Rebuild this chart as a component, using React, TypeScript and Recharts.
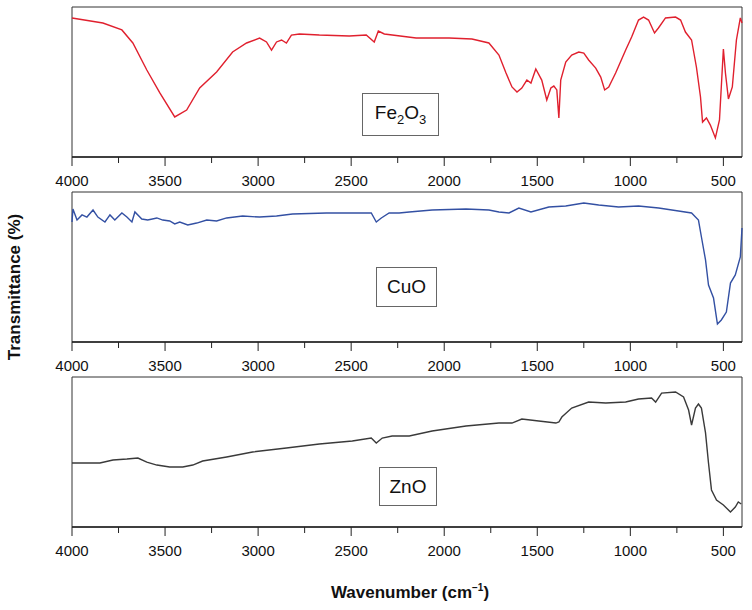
import { Line, LineChart, ReferenceArea, XAxis, YAxis } from 'recharts';

// wavenumber (cm-1) / transmittance (arbitrary %, 0 = panel bottom, 100 = panel top)
const fe2o3Wn = [
  4000, 3834, 3732, 3673, 3598, 3528, 3448, 3384, 3314, 3223, 3137, 3062, 2992, 2955, 2928, 2901,
  2874, 2848, 2821, 2778, 2671, 2510, 2419, 2376, 2354, 2322, 2151, 1974, 1851, 1760, 1706, 1668,
  1636, 1609, 1583, 1556, 1534, 1508, 1476, 1449, 1427, 1411, 1395, 1384, 1374, 1347, 1315, 1277,
  1250, 1224, 1186, 1159, 1138, 1116, 1079, 1025, 993, 956, 929, 902, 870, 849, 811, 757, 730, 704,
  671, 645, 623, 612, 591, 570, 543, 521, 500, 489, 473, 452, 430, 409, 400,
];
const fe2o3T = [
  92.7, 89.3, 84.7, 76, 58, 42.7, 26.7, 31.3, 46, 56.7, 70, 76, 79.3, 76.7, 71.3, 76.7, 78, 76,
  81.3, 82, 81.3, 80.7, 81.3, 76.7, 84, 82, 79.3, 79.3, 78.7, 76, 68, 56, 46.7, 43.3, 46, 51.3,
  49.3, 58.7, 51.3, 38, 46, 47.3, 44.7, 26, 51.3, 63.3, 68, 70, 69.3, 64.7, 59.3, 53.3, 44.7, 46.7,
  56, 71.3, 80, 91.3, 93.3, 91.3, 82.7, 86, 92.7, 93.3, 91.3, 83.3, 78, 60, 40, 23.3, 26, 21.3,
  12.7, 24.7, 72, 56, 38.7, 46.7, 78, 92.7, 89.3,
];

const cuoWn = [
  4000, 3995, 3973, 3946, 3920, 3887, 3861, 3823, 3796, 3770, 3732, 3705, 3678, 3662, 3625, 3593,
  3544, 3512, 3475, 3448, 3421, 3378, 3330, 3276, 3223, 3169, 3083, 2992, 2901, 2815, 2633, 2456,
  2392, 2365, 2338, 2296, 2242, 2188, 2065, 1883, 1760, 1706, 1652, 1599, 1534, 1438, 1347, 1250,
  1170, 1063, 956, 848, 741, 671, 634, 618, 596, 580, 553, 532, 511, 484, 462, 436, 409, 400,
];
const cuoT = [
  80, 88.7, 81.3, 84.7, 83.3, 88, 83.3, 80, 84.7, 81.3, 86, 83.3, 80, 86.7, 82, 81.3, 82.7, 81.3,
  80.7, 78.7, 80, 78, 79.3, 81.3, 80.7, 82.7, 84, 83.3, 84, 85.3, 86, 86, 86, 80, 82.7, 86, 86,
  86.7, 88, 88.7, 88, 86.7, 86, 89.3, 86.7, 90, 90.7, 92.7, 91.3, 90, 90.7, 89.3, 87.3, 86, 81.3,
  70, 54.7, 38, 29.3, 12, 14.7, 20, 39.3, 44.7, 56.7, 76,
];

const znoWn = [
  4000, 3920, 3850, 3780, 3705, 3646, 3598, 3544, 3475, 3405, 3351, 3298, 3169, 3030, 2848, 2671,
  2494, 2392, 2365, 2333, 2280, 2188, 2065, 1883, 1706, 1636, 1583, 1492, 1400, 1384, 1368, 1315,
  1224, 1132, 1025, 956, 886, 864, 832, 757, 714, 687, 671, 650, 634, 618, 596, 580, 564, 537, 500,
  462, 436, 420, 404,
];
const znoT = [
  42.7, 42.7, 42.7, 44.7, 45.3, 46, 43.3, 41.3, 40, 40, 41.3, 44, 46.7, 50, 52.7, 55.3, 57.3, 59.3,
  56, 59.3, 60.7, 60.7, 64, 67.3, 69.3, 69.3, 72, 70.7, 69.3, 70, 73.3, 79.3, 83.3, 82.7, 83.3,
  85.3, 86, 83.3, 89.3, 90, 86.7, 78, 68, 79.3, 82, 79.3, 62.7, 42.7, 24.7, 18, 14.7, 10, 13.3,
  16.7, 15.3,
];

const wnTicks = [4000, 3750, 3500, 3250, 3000, 2750, 2500, 2250, 2000, 1750, 1500, 1250, 1000, 750, 500];

const FONT = '"Liberation Sans", Arial, sans-serif';

const WnTick = ({ x, y, payload }: any) => {
  const major = payload.value % 500 === 0;
  return (
    <g>
      <line x1={x} x2={x} y1={y} y2={y + (major ? 9 : 6)} stroke="#222" />
      {major && (
        <text x={x} y={y + 29} textAnchor="middle" fontSize={15} fontFamily={FONT} fill="#111">
          {payload.value}
        </text>
      )}
    </g>
  );
};

type PanelProps = { wn: number[]; t: number[]; color: string; top: number };

function Panel({ wn, t, color, top }: PanelProps) {
  const data = wn.map((w, i) => ({ wn: w, t: t[i] }));
  return (
    <div style={{ position: 'absolute', left: 0, top, width: 752, height: 200 }}>
      <LineChart width={752} height={200} data={data} margin={{ top: 7, right: 10, bottom: 0, left: 72 }}>
        <XAxis
          dataKey="wn"
          type="number"
          domain={[400, 4000]}
          reversed
          ticks={wnTicks}
          interval={0}
          tick={<WnTick />}
          tickLine={false}
          tickSize={0}
          tickMargin={0}
          height={43}
          axisLine={{ stroke: '#222', strokeWidth: 1.5 }}
        />
        <YAxis domain={[0, 100]} width={0} tick={false} axisLine={{ stroke: '#222', strokeWidth: 1.5 }} />
        <ReferenceArea x1={400} x2={4000} y1={0} y2={100} fill="none" stroke="#333" strokeWidth={1} />
        <Line
          dataKey="t"
          type="linear"
          stroke={color}
          strokeWidth={1.4}
          dot={false}
          isAnimationActive={false}
        />
      </LineChart>
    </div>
  );
}

const boxStyle = (left: number, top: number, width: number, height: number) => ({
  position: 'absolute' as const,
  left,
  top,
  width,
  height,
  boxSizing: 'border-box' as const,
  border: '1px solid #666',
  background: '#fff',
  display: 'flex',
  alignItems: 'center',
  justifyContent: 'center',
  fontFamily: FONT,
  fontSize: 19,
  color: '#111',
});

export default function App() {
  return (
    <div style={{ position: 'absolute', left: 0, top: 0, width: 752, height: 610, background: '#fff' }}>
      <Panel wn={fe2o3Wn} t={fe2o3T} color="#e0202e" top={0} />
      <Panel wn={cuoWn} t={cuoT} color="#3350a3" top={185} />
      <Panel wn={znoWn} t={znoT} color="#3a3a3a" top={370} />

      <div style={boxStyle(362, 93, 77, 43)}>
        <span>
          Fe<sub style={{ fontSize: 13 }}>2</sub>O<sub style={{ fontSize: 13 }}>3</sub>
        </span>
      </div>
      <div style={boxStyle(376, 267, 61, 40)}>CuO</div>
      <div style={boxStyle(379, 467, 58, 39)}>ZnO</div>

      <div
        style={{
          position: 'absolute',
          left: 15,
          top: 287,
          transform: 'translate(-50%, -50%) rotate(-90deg)',
          whiteSpace: 'nowrap',
          fontFamily: FONT,
          fontWeight: 'bold',
          fontSize: 17,
          color: '#111',
        }}>
        Transmittance (%)
      </div>
      <div
        style={{
          position: 'absolute',
          left: 410,
          top: 582,
          transform: 'translateX(-50%)',
          whiteSpace: 'nowrap',
          fontFamily: FONT,
          fontWeight: 'bold',
          fontSize: 17,
          color: '#111',
        }}>
        Wavenumber (cm<sup style={{ fontSize: 10 }}>−1</sup>)
      </div>
    </div>
  );
}
